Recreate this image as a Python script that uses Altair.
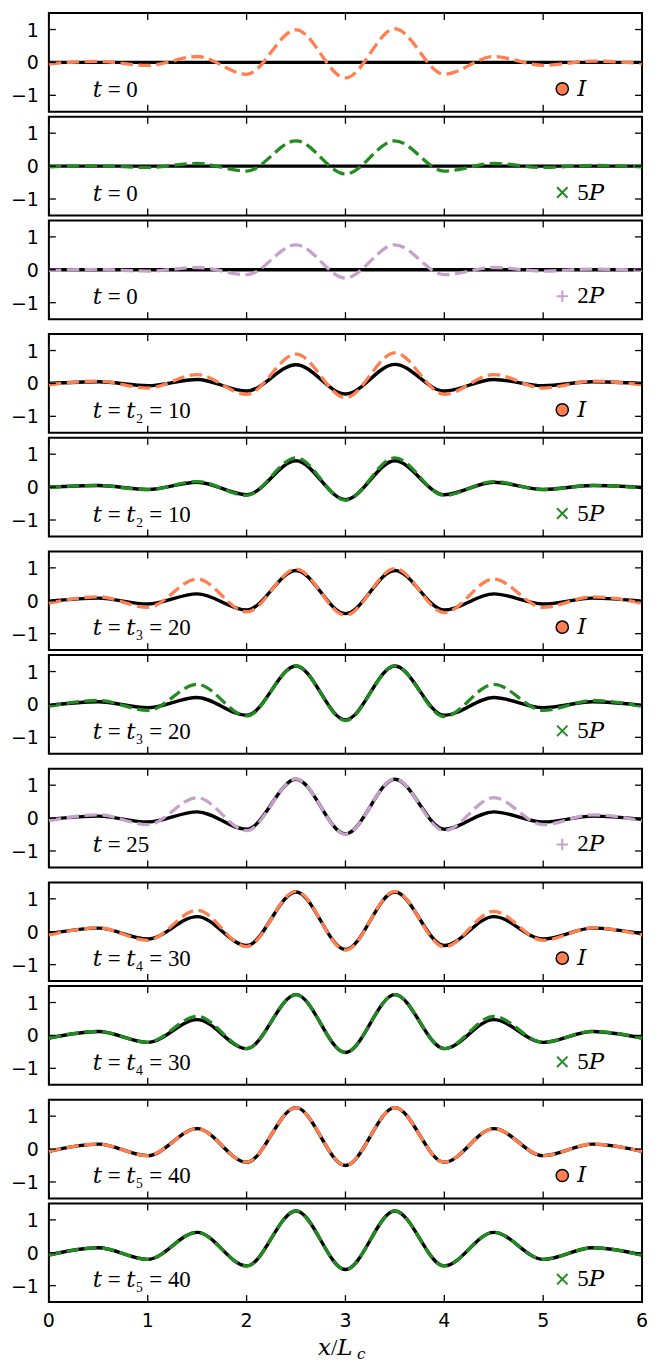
import altair as alt
import pandas as pd

# ---------------- data ----------------
x_pos = [0, 0.5, 1, 1.5, 2, 2.5, 3, 3.5, 4, 4.5, 5, 5.5, 6]
x_ticks = [0, 1, 2, 3, 4, 5, 6]
x_tick_labels = ["0", "1", "2", "3", "4", "5", "6"]
y_ticks = [-1, 0, 1]
y_tick_labels = ["−1", "0", "1"]

solid_t0 = [0.0, 0.0, 0.0, 0.0, 0.0, 0.0, 0.0, 0.0, 0.0, 0.0, 0.0, 0.0, 0.0]
I_t0 = [-0.04, 0.03, -0.09, 0.18, -0.36, 0.99, -0.47, 1.02, -0.36, 0.18, -0.09, 0.04, -0.03]
P5_t0 = [-0.02, 0.01, -0.04, 0.08, -0.15, 0.77, -0.24, 0.77, -0.15, 0.08, -0.04, 0.02, -0.02]
P2_t0 = [-0.02, 0.01, -0.04, 0.07, -0.15, 0.76, -0.25, 0.76, -0.15, 0.07, -0.04, 0.02, -0.02]

solid_I_t10 = [0.0, 0.05, -0.07, 0.12, -0.23, 0.57, -0.32, 0.58, -0.23, 0.12, -0.07, 0.05, 0.0]
I_t10 = [-0.04, 0.07, -0.14, 0.27, -0.33, 0.89, -0.43, 0.93, -0.33, 0.27, -0.14, 0.07, -0.04]
solid_P5_t10 = [0.0, 0.05, -0.07, 0.15, -0.23, 0.80, -0.38, 0.80, -0.23, 0.15, -0.07, 0.05, -0.01]
P5_t10 = [-0.01, 0.05, -0.08, 0.17, -0.25, 0.89, -0.40, 0.89, -0.25, 0.17, -0.08, 0.05, -0.02]

solid_I_t20 = [-0.01, 0.08, -0.10, 0.21, -0.28, 0.92, -0.39, 0.92, -0.28, 0.21, -0.10, 0.08, -0.01]
I_t20 = [-0.07, 0.12, -0.20, 0.66, -0.34, 0.96, -0.44, 0.98, -0.36, 0.66, -0.20, 0.12, -0.07]
solid_P5_t20 = [-0.03, 0.08, -0.10, 0.21, -0.33, 1.17, -0.47, 1.17, -0.33, 0.21, -0.10, 0.08, -0.03]
P5_t20 = [-0.06, 0.12, -0.18, 0.61, -0.35, 1.17, -0.49, 1.17, -0.37, 0.61, -0.18, 0.12, -0.06]

solid_P2_t25 = [-0.04, 0.06, -0.12, 0.19, -0.34, 1.18, -0.48, 1.18, -0.34, 0.19, -0.12, 0.06, -0.04]
P2_t25 = [-0.08, 0.10, -0.20, 0.62, -0.38, 1.19, -0.49, 1.19, -0.38, 0.62, -0.20, 0.10, -0.08]

solid_I_t30 = [-0.06, 0.11, -0.22, 0.46, -0.42, 1.21, -0.54, 1.21, -0.42, 0.46, -0.22, 0.11, -0.06]
I_t30 = [-0.10, 0.12, -0.26, 0.65, -0.45, 1.23, -0.56, 1.23, -0.46, 0.62, -0.26, 0.12, -0.10]
solid_P5_t30 = [-0.08, 0.12, -0.21, 0.48, -0.40, 1.24, -0.52, 1.24, -0.40, 0.48, -0.21, 0.12, -0.08]
P5_t30 = [-0.08, 0.12, -0.21, 0.58, -0.40, 1.24, -0.52, 1.24, -0.40, 0.58, -0.21, 0.12, -0.08]

solid_I_t40 = [-0.07, 0.15, -0.20, 0.62, -0.40, 1.26, -0.50, 1.26, -0.40, 0.62, -0.20, 0.15, -0.07]
I_t40 = [-0.07, 0.15, -0.20, 0.62, -0.40, 1.26, -0.50, 1.26, -0.40, 0.62, -0.20, 0.15, -0.07]
solid_P5_t40 = [-0.07, 0.15, -0.20, 0.62, -0.40, 1.27, -0.51, 1.27, -0.40, 0.62, -0.20, 0.15, -0.07]
P5_t40 = [-0.07, 0.15, -0.20, 0.62, -0.40, 1.27, -0.51, 1.27, -0.40, 0.62, -0.20, 0.15, -0.07]

time_labels = ["𝑡 = 0", "𝑡 = 0", "𝑡 = 0",
               "𝑡 = 𝑡₂ = 10", "𝑡 = 𝑡₂ = 10",
               "𝑡 = 𝑡₃ = 20", "𝑡 = 𝑡₃ = 20",
               "𝑡 = 25",
               "𝑡 = 𝑡₄ = 30", "𝑡 = 𝑡₄ = 30",
               "𝑡 = 𝑡₅ = 40", "𝑡 = 𝑡₅ = 40"]
quantities = ["I", "5P", "2P", "I", "5P", "I", "5P", "2P", "I", "5P", "I", "5P"]
legend_labels = {"I": "𝐼", "5P": "5𝑃", "2P": "2𝑃"}
solid_series = [solid_t0, solid_t0, solid_t0, solid_I_t10, solid_P5_t10,
                solid_I_t20, solid_P5_t20, solid_P2_t25, solid_I_t30,
                solid_P5_t30, solid_I_t40, solid_P5_t40]
dashed_series = [I_t0, P5_t0, P2_t0, I_t10, P5_t10, I_t20, P5_t20, P2_t25,
                 I_t30, P5_t30, I_t40, P5_t40]
groups = [[0, 1, 2], [3, 4], [5, 6], [7], [8, 9], [10, 11]]

# ---------------- styling ----------------
W, H = 595, 99
colors = {"I": "#FF7F50", "5P": "#228B22", "2P": "#C8A0CC"}
SERIF = "Liberation Serif, DejaVu Serif, serif"
SANS = "DejaVu Sans"
TICK = 7

xs = alt.Scale(domain=[0, 6], nice=False, zero=False)
ys = alt.Scale(domain=[-1.5, 1.5], nice=False, zero=False)


def make_panel(i, bottom):
    q = quantities[i]
    col = colors[q]
    df = pd.DataFrame({"x": x_pos, "solid": solid_series[i], "dashed": dashed_series[i]})
    base = alt.Chart(df)
    solid = base.mark_line(color="black", strokeWidth=3.4, interpolate="monotone").encode(
        x=alt.X("x:Q", scale=xs, axis=None), y=alt.Y("solid:Q", scale=ys, axis=None))
    dashed = base.mark_line(color=col, strokeWidth=3.3, strokeDash=[12.5, 5.5],
                            interpolate="monotone").encode(
        x=alt.X("x:Q", scale=xs, axis=None), y=alt.Y("dashed:Q", scale=ys, axis=None))

    xt = alt.Chart(pd.DataFrame({"v": x_ticks, "lab": x_tick_labels}))
    yt = alt.Chart(pd.DataFrame({"v": y_ticks, "lab": y_tick_labels}))
    tick_top = xt.mark_rule(color="black", strokeWidth=1.3).encode(
        x=alt.X("v:Q", scale=xs, axis=None), y=alt.value(0), y2=alt.value(TICK))
    tick_bot = xt.mark_rule(color="black", strokeWidth=1.3).encode(
        x=alt.X("v:Q", scale=xs, axis=None), y=alt.value(H), y2=alt.value(H - TICK))
    tick_left = yt.mark_rule(color="black", strokeWidth=1.3).encode(
        y=alt.Y("v:Q", scale=ys, axis=None), x=alt.value(0), x2=alt.value(TICK))
    tick_right = yt.mark_rule(color="black", strokeWidth=1.3).encode(
        y=alt.Y("v:Q", scale=ys, axis=None), x=alt.value(W), x2=alt.value(W - TICK))
    ylab = yt.mark_text(align="right", baseline="alphabetic", dy=7, fontSize=19, font=SANS,
                        color="black").encode(
        y=alt.Y("v:Q", scale=ys, axis=None), x=alt.value(-10), text="lab:N")

    ann = alt.Chart(pd.DataFrame({"t": [time_labels[i]], "q": [legend_labels[q]]}))
    tlabel = ann.mark_text(align="left", baseline="alphabetic", fontSize=23, font=SERIF,
                           color="black").encode(x=alt.value(44), y=alt.value(84), text="t:N")
    if q == "I":
        marker = ann.mark_point(shape="circle", filled=True, fill=col, stroke="black",
                                strokeWidth=1.5, size=150, opacity=1)
    elif q == "5P":
        marker = ann.mark_point(shape="M-1,-1L1,1M-1,1L1,-1", filled=False, stroke=col,
                                strokeWidth=2, size=110, opacity=1)
    else:
        marker = ann.mark_point(shape="M-1,0L1,0M0,-1L0,1", filled=False, stroke=col,
                                strokeWidth=2, size=130, opacity=1)
    marker = marker.encode(x=alt.value(515), y=alt.value(76))
    qlabel = ann.mark_text(align="left", baseline="alphabetic", fontSize=23, font=SERIF,
                           color="black").encode(x=alt.value(530), y=alt.value(83), text="q:N")

    layers = [solid, dashed, tick_top, tick_bot, tick_left, tick_right, ylab,
              tlabel, marker, qlabel]
    if bottom:
        layers.append(xt.mark_text(align="center", baseline="top", fontSize=19, font=SANS,
                                   color="black").encode(
            x=alt.X("v:Q", scale=xs, axis=None), y=alt.value(H + 10), text="lab:N"))
        xl = alt.Chart(pd.DataFrame({"a": ["𝑥/𝐿"], "b": ["𝑐"]}))
        layers.append(xl.mark_text(align="left", baseline="alphabetic", fontSize=23,
                                   font=SERIF, color="black").encode(
            x=alt.value(270), y=alt.value(H + 53), text="a:N"))
        layers.append(xl.mark_text(align="left", baseline="alphabetic", fontSize=15,
                                   font=SERIF, color="black").encode(
            x=alt.value(309), y=alt.value(H + 57), text="b:N"))
    return alt.layer(*layers).properties(width=W, height=H)


def spacer():
    return alt.Chart(pd.DataFrame({"a": [0]})).mark_point(opacity=0, size=1).encode(
        x=alt.X("a:Q", axis=None), y=alt.Y("a:Q", axis=None)
    ).properties(width=W, height=5, view=alt.ViewBackground(strokeOpacity=0, strokeWidth=0))


rows = []
for gi, g in enumerate(groups):
    if gi > 0:
        rows.append(spacer())
    for i in g:
        rows.append(make_panel(i, i == 11))

chart = alt.vconcat(*rows, spacing=5, bounds="flush").properties(
    padding={"left": 1, "top": 1, "right": 5, "bottom": 0}
).configure_view(stroke="black", strokeWidth=2)

chart.save("out.html", embed_options={"renderer": "svg", "actions": False})
